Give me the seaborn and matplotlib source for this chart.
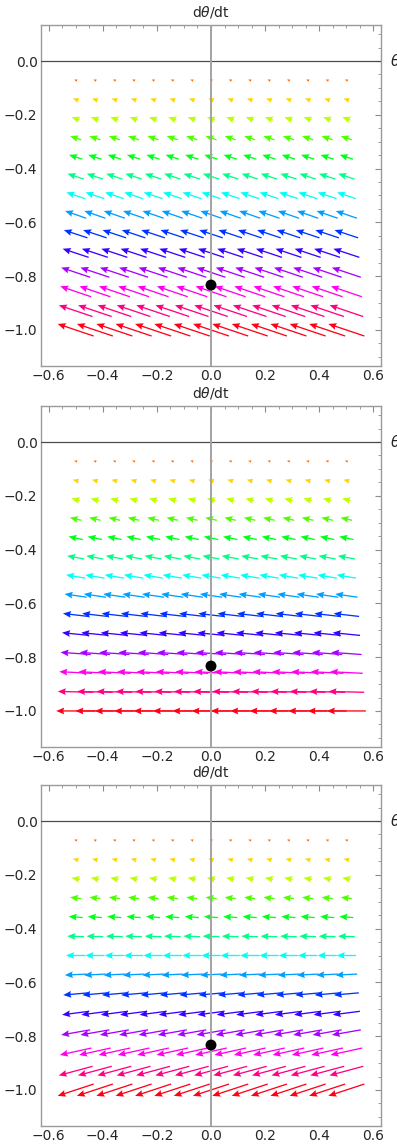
import numpy as np
import pandas as pd
import matplotlib
matplotlib.use("Agg")
import matplotlib.pyplot as plt
import seaborn as sns
from matplotlib.ticker import MultipleLocator

# malla del campo: columnas en theta, filas en dtheta/dt
theta = [-0.5, -0.429, -0.357, -0.286, -0.214, -0.143, -0.071, 0.0,
         0.071, 0.143, 0.214, 0.286, 0.357, 0.429, 0.5]
dtheta = [-0.071, -0.143, -0.214, -0.286, -0.357, -0.429, -0.5,
          -0.571, -0.643, -0.714, -0.786, -0.857, -0.929, -1.0]

u_p1 = [-0.011, -0.021, -0.030, -0.041, -0.049, -0.060, -0.069,
        -0.078, -0.087, -0.096, -0.107, -0.114, -0.124, -0.133]
v_p1 = [0.004, 0.007, 0.011, 0.014, 0.016, 0.020, 0.023,
        0.027, 0.029, 0.032, 0.036, 0.039, 0.042, 0.045]

u_p2 = [-0.011, -0.022, -0.031, -0.043, -0.053, -0.063, -0.071,
        -0.082, -0.094, -0.101, -0.112, -0.121, -0.132, -0.144]
v_p2 = [0.003, 0.006, 0.008, 0.010, 0.011, 0.012, 0.012,
        0.012, 0.011, 0.010, 0.008, 0.006, 0.003, 0.0]

u_p3 = [-0.011, -0.021, -0.031, -0.041, -0.052, -0.062, -0.071,
        -0.080, -0.092, -0.100, -0.107, -0.117, -0.125, -0.133]
v_p3 = [0.003, 0.005, 0.006, 0.005, 0.004, 0.002, 0.0,
        -0.004, -0.008, -0.013, -0.019, -0.026, -0.034, -0.044]

# punto de equilibrio
punto_x = [0.0]
punto_y = [-0.833]

xticks = [-0.6, -0.4, -0.2, 0.0, 0.2, 0.4, 0.6]
xlabels = ["\u22120.6", "\u22120.4", "\u22120.2", "0.0", "0.2", "0.4", "0.6"]
yticks = [0.0, -0.2, -0.4, -0.6, -0.8, -1.0]
ylabels = ["0.0", "\u22120.2", "\u22120.4", "\u22120.6", "\u22120.8", "\u22121.0"]

paneles = [(u_p1, v_p1), (u_p2, v_p2), (u_p3, v_p3)]

sns.set_style("white")
plt.rcParams['font.family'] = ['DejaVu Sans']

fig = plt.figure(figsize=(3.97, 11.45), dpi=100)
W, H = 397, 1145
tops = [25, 406, 785]
alto = 341

for top, (us, vs) in zip(tops, paneles):
    ax = fig.add_axes([41 / W, 1 - (top + alto) / H, 340 / W, alto / H])

    filas = []
    for r, u, v in zip(dtheta, us, vs):
        for t in theta:
            filas.append({"theta": t, "dtheta": r, "u": u, "v": v, "tono": -r})
    df = pd.DataFrame(filas)

    ax.quiver(df["theta"], df["dtheta"], df["u"], df["v"], df["tono"],
              cmap="hsv", norm=plt.Normalize(0, 1),
              angles="xy", scale_units="xy", scale=1, pivot="middle",
              units="dots", width=1.3, headwidth=5.2, headlength=6.2,
              headaxislength=5.5, minshaft=1, zorder=2)

    ax.axhline(0, color="#4d4d4d", lw=0.9, zorder=3)
    ax.axvline(0, color="#a3a3a3", lw=1.4, zorder=3)

    sns.scatterplot(x=punto_x, y=punto_y, color="black", s=62,
                    edgecolor="none", ax=ax, zorder=5)

    ax.set_xlim(-0.628, 0.628)
    ax.set_ylim(-1.134, 0.134)
    ax.set_xticks(xticks)
    ax.set_xticklabels(xlabels)
    ax.set_yticks(yticks)
    ax.set_yticklabels(ylabels)
    ax.xaxis.set_minor_locator(MultipleLocator(0.05))
    ax.yaxis.set_minor_locator(MultipleLocator(0.05))
    ax.tick_params(which="both", direction="in", top=True, right=True,
                   color="#8c8c8c", labelsize=10, pad=2.5)
    ax.tick_params(which="major", length=4, width=0.8)
    ax.tick_params(which="minor", length=2.2, width=0.6)
    for s in ax.spines.values():
        s.set_color("#9a9a9a")
        s.set_linewidth(1.0)

    ax.annotate("d$\\theta$/dt", xy=(0, 1), xycoords=("data", "axes fraction"),
                xytext=(0, 9.4), textcoords="offset points",
                ha="center", va="center", fontsize=10, annotation_clip=False)
    ax.annotate("$\\theta$", xy=(1, 0), xycoords=("axes fraction", "data"),
                xytext=(6.5, 0), textcoords="offset points",
                ha="left", va="center", fontsize=11, annotation_clip=False)

fig.savefig("out.png", dpi=100)
